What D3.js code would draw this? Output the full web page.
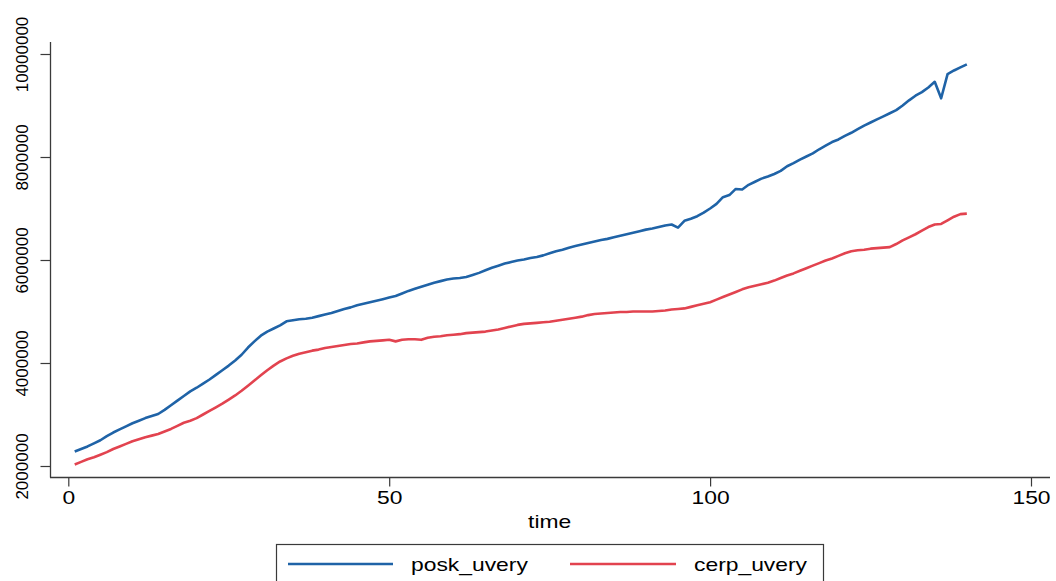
<!DOCTYPE html>
<html>
<head>
<meta charset="utf-8">
<script src="https://cdn.jsdelivr.net/npm/d3@7"></script>
<style>
  html, body { margin: 0; padding: 0; background: #fff; }
  svg { display: block; font-family: "Liberation Sans", Arial, sans-serif; }
</style>
</head>
<body>
<svg id="chart" width="1056" height="581"></svg>
<script>
// Monthly series, time = 1..140 (values in persons)
const time = d3.range(1, 141);

const poskUvery = [
  2280000, 2330000, 2380000, 2440000, 2500000, 2580000, 2650000, 2710000, 2770000, 2830000,
  2880000, 2930000, 2970000, 3010000, 3090000, 3180000, 3270000, 3360000, 3450000, 3520000,
  3600000, 3680000, 3770000, 3860000, 3950000, 4050000, 4160000, 4300000, 4420000, 4530000,
  4610000, 4670000, 4730000, 4810000, 4830000, 4850000, 4860000, 4880000, 4910000, 4940000,
  4970000, 5010000, 5050000, 5080000, 5120000, 5150000, 5180000, 5210000, 5240000, 5270000,
  5300000, 5350000, 5400000, 5440000, 5480000, 5520000, 5560000, 5590000, 5620000, 5640000,
  5650000, 5670000, 5710000, 5750000, 5800000, 5850000, 5890000, 5930000, 5960000, 5990000,
  6010000, 6040000, 6060000, 6090000, 6130000, 6170000, 6200000, 6240000, 6270000, 6300000,
  6330000, 6360000, 6390000, 6410000, 6440000, 6470000, 6500000, 6530000, 6560000, 6590000,
  6610000, 6640000, 6670000, 6690000, 6630000, 6760000, 6800000, 6850000, 6920000, 7000000,
  7090000, 7220000, 7260000, 7380000, 7370000, 7460000, 7520000, 7580000, 7620000, 7670000,
  7730000, 7820000, 7880000, 7950000, 8010000, 8070000, 8150000, 8220000, 8290000, 8340000,
  8410000, 8470000, 8540000, 8610000, 8670000, 8730000, 8790000, 8850000, 8910000, 9000000,
  9100000, 9190000, 9260000, 9350000, 9460000, 9140000, 9610000, 9680000, 9740000, 9800000
];

const cerpUvery = [
  2030000, 2080000, 2130000, 2170000, 2220000, 2270000, 2330000, 2380000, 2430000, 2480000,
  2520000, 2560000, 2590000, 2620000, 2670000, 2720000, 2780000, 2840000, 2880000, 2930000,
  3000000, 3070000, 3140000, 3210000, 3290000, 3370000, 3460000, 3560000, 3660000, 3760000,
  3860000, 3950000, 4030000, 4090000, 4140000, 4180000, 4210000, 4240000, 4260000, 4290000,
  4310000, 4330000, 4350000, 4370000, 4380000, 4400000, 4420000, 4430000, 4440000, 4450000,
  4420000, 4450000, 4460000, 4460000, 4450000, 4490000, 4510000, 4520000, 4540000, 4550000,
  4560000, 4580000, 4590000, 4600000, 4610000, 4630000, 4650000, 4680000, 4710000, 4740000,
  4760000, 4770000, 4780000, 4790000, 4800000, 4820000, 4840000, 4860000, 4880000, 4900000,
  4930000, 4950000, 4960000, 4970000, 4980000, 4990000, 4990000, 5000000, 5000000, 5000000,
  5000000, 5010000, 5020000, 5040000, 5050000, 5060000, 5090000, 5120000, 5150000, 5180000,
  5230000, 5280000, 5330000, 5380000, 5430000, 5470000, 5500000, 5530000, 5560000, 5600000,
  5650000, 5700000, 5740000, 5790000, 5840000, 5890000, 5940000, 5990000, 6030000, 6080000,
  6130000, 6170000, 6190000, 6200000, 6220000, 6230000, 6240000, 6250000, 6310000, 6380000,
  6440000, 6500000, 6570000, 6640000, 6690000, 6700000, 6770000, 6840000, 6890000, 6900000
];

const xTicks = [0, 50, 100, 150];
const yTicks = [2000000, 4000000, 6000000, 8000000, 10000000];
const seriesNames = ["posk_uvery", "cerp_uvery"];
const seriesColors = ["#1f63a7", "#e2434f"];

const svg = d3.select("#chart");

const x = d3.scaleLinear().domain([0, 150]).range([68.3, 1031]);
const y = d3.scaleLinear().domain([2000000, 10000000]).range([466, 54]);

const axisColor = "#3a3a3a";
const wide = "scale(1.27,1)"; // wide horizontal lettering

// y axis
const yAxis = svg.append("g")
  .attr("transform", "translate(50.5,0)")
  .call(d3.axisLeft(y).tickValues(yTicks).tickSize(10).tickPadding(0).tickFormat(d3.format("d")));
yAxis.select(".domain").remove();
yAxis.append("line")
  .attr("x1", 0).attr("x2", 0).attr("y1", 42).attr("y2", 477.5)
  .attr("stroke", axisColor).attr("stroke-width", 1.3);
yAxis.selectAll(".tick line").attr("stroke", axisColor).attr("stroke-width", 1.2);
yAxis.selectAll(".tick text")
  .attr("fill", "#000")
  .attr("font-size", 17)
  .attr("text-anchor", "middle")
  .attr("x", 0).attr("dy", 0)
  .attr("transform", "translate(-23,0) rotate(-90)");

// x axis
const xAxis = svg.append("g")
  .attr("transform", "translate(0,477.5)")
  .call(d3.axisBottom(x).tickValues(xTicks).tickSize(9).tickPadding(5).tickFormat(d3.format("d")));
xAxis.select(".domain").remove();
xAxis.append("line")
  .attr("x1", 50).attr("x2", 1050).attr("y1", 0).attr("y2", 0)
  .attr("stroke", axisColor).attr("stroke-width", 1.3);
xAxis.selectAll(".tick line").attr("stroke", axisColor).attr("stroke-width", 1.2);
xAxis.selectAll(".tick text").attr("fill", "#000").attr("font-size", 18).attr("transform", wide);

svg.append("g")
  .attr("transform", `translate(${(x(0) + x(150)) / 2},528)`)
  .append("text")
  .attr("text-anchor", "middle")
  .attr("font-size", 18)
  .attr("transform", wide)
  .text("time");

// lines
const line = d3.line()
  .x((d, i) => x(time[i]))
  .y(d => y(d));

[poskUvery, cerpUvery].forEach((vals, k) => {
  svg.append("path")
    .datum(vals)
    .attr("fill", "none")
    .attr("stroke", seriesColors[k])
    .attr("stroke-width", 2.6)
    .attr("stroke-linejoin", "round")
    .attr("d", line);
});

// legend
const legend = svg.append("g");
legend.append("rect")
  .attr("x", 276.5).attr("y", 544.5)
  .attr("width", 547).attr("height", 50)
  .attr("fill", "#fff").attr("stroke", axisColor).attr("stroke-width", 1.2);

const legendItems = [
  { x0: 288, x1: 393, tx: 411 },
  { x0: 570, x1: 676, tx: 694 }
];
legendItems.forEach((it, k) => {
  legend.append("line")
    .attr("x1", it.x0).attr("x2", it.x1).attr("y1", 564).attr("y2", 564)
    .attr("stroke", seriesColors[k]).attr("stroke-width", 2.6);
  legend.append("g")
    .attr("transform", `translate(${it.tx},571)`)
    .append("text")
    .attr("font-size", 18)
    .attr("transform", wide)
    .text(seriesNames[k]);
});
</script>
</body>
</html>
